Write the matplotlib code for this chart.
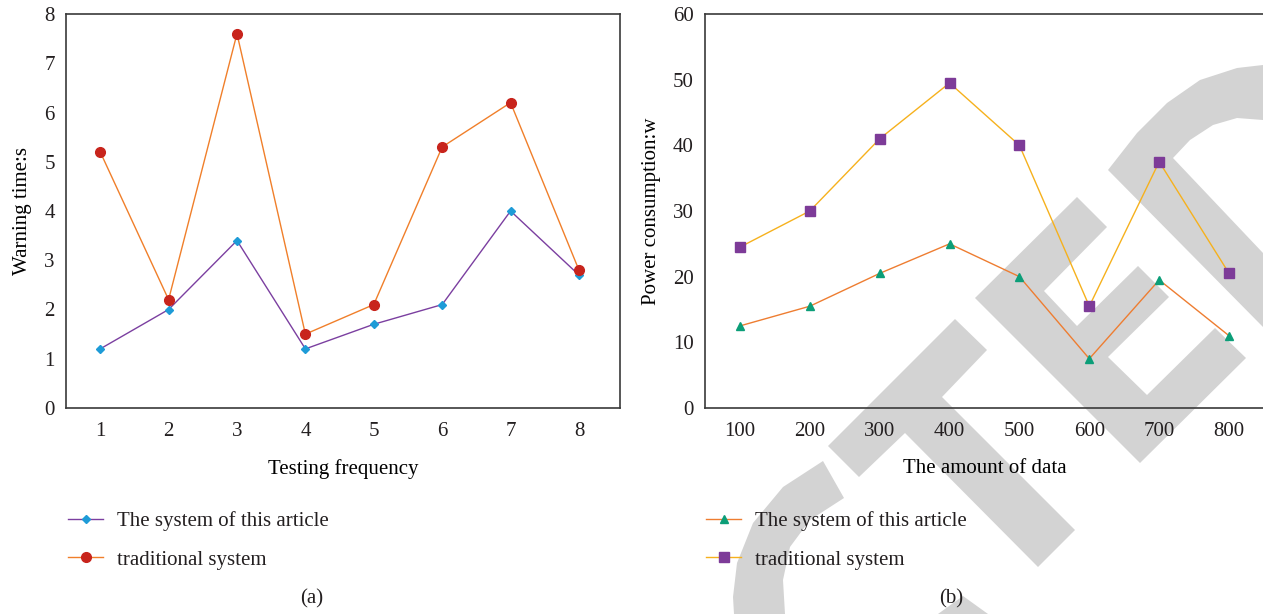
import matplotlib
matplotlib.use('Agg')
import matplotlib.pyplot as plt
from matplotlib.patches import Polygon

plt.rcParams['font.family'] = ['Liberation Serif', 'DejaVu Serif']
plt.rcParams['text.color'] = '#231f20'

# (a) warning time per test run
test_no = [1, 2, 3, 4, 5, 6, 7, 8]
warn_ours = [1.2, 2.0, 3.4, 1.2, 1.7, 2.1, 4.0, 2.7]
warn_trad = [5.2, 2.2, 7.6, 1.5, 2.1, 5.3, 6.2, 2.8]

# (b) power consumption vs amount of data
data_amount = [100, 200, 300, 400, 500, 600, 700, 800]
power_ours = [12.5, 15.5, 20.5, 25.0, 20.0, 7.5, 19.5, 11.0]
power_trad = [24.5, 30.0, 41.0, 49.5, 40.0, 15.5, 37.5, 20.5]

labels = ['The system of this article', 'traditional system']

W, H = 1263, 614
FS = 15
INK = '#231f20'

# grey retraction watermark behind the charts (pixel coords, y down)
watermark = [
    # T
    [(955, 319), (987, 350), (942, 397), (1075, 530), (1038, 567),
     (905, 433), (859, 477), (828, 446)],
    # E
    [(1077, 197), (1107, 227), (1044, 291), (1077, 326), (1138, 266),
     (1169, 297), (1108, 357), (1147, 395), (1215, 328), (1246, 358),
     (1140, 463), (975, 298)],
    # bowl + leg at top right
    [(1108, 170), (1137, 133), (1167, 103), (1200, 80), (1237, 68),
     (1263, 65), (1263, 120), (1237, 118), (1213, 125), (1190, 140),
     (1173, 158), (1263, 253), (1263, 327)],
    # arc at the bottom
    [(823, 461), (783, 487), (753, 523), (737, 563), (733, 597),
     (734, 614), (785, 614), (783, 580), (790, 547), (810, 520),
     (844, 498)],
    [(938, 614), (963, 596), (988, 614)],
]

fig = plt.figure(figsize=(W / 100, H / 100), dpi=100)
bg = fig.add_axes([0, 0, 1, 1], zorder=0)
bg.set_xlim(0, W)
bg.set_ylim(H, 0)
bg.axis('off')
for pts in watermark:
    bg.add_patch(Polygon(pts, closed=True, fc='#d3d3d3', ec='none'))


def px_axes(x0, y0, x1, y1):
    a = fig.add_axes([x0 / W, 1 - y1 / H, (x1 - x0) / W, (y1 - y0) / H], zorder=1)
    a.set_facecolor('none')
    for s in a.spines.values():
        s.set_color('#3a3a3a')
        s.set_linewidth(1.2)
    a.tick_params(length=0, labelsize=FS, colors=INK)
    a.tick_params(axis='x', pad=10)
    a.tick_params(axis='y', pad=8)
    return a


ax1 = px_axes(66, 14, 620, 408)
ax1.plot(test_no, warn_ours, color='#7b3fa0', lw=1.0, marker='D', ms=4.5,
         mfc='#1e9bd7', mec='#1e9bd7', label=labels[0])
ax1.plot(test_no, warn_trad, color='#f07f2a', lw=1.0, marker='o', ms=7,
         mfc='#c8241c', mec='#c8241c', label=labels[1])
ax1.set_xlim(0.5, 8.6)
ax1.set_ylim(0, 8)
ax1.set_xticks(test_no)
ax1.set_yticks(range(0, 9))
ax1.set_ylabel('Warning time:s', fontsize=FS, labelpad=9)
ax1.set_xlabel('Testing frequency', fontsize=FS, labelpad=13)

ax2 = px_axes(705, 14, 1264, 408)
ax2.spines['right'].set_visible(False)
ax2.plot(data_amount, power_ours, color='#ee7d31', lw=1.0, marker='^', ms=6,
         mfc='#0b9e78', mec='#0b9e78', label=labels[0])
ax2.plot(data_amount, power_trad, color='#f6b11d', lw=1.0, marker='s', ms=7,
         mfc='#7d3b98', mec='#7d3b98', label=labels[1])
ax2.set_xlim(50, 850)
ax2.set_ylim(0, 60)
ax2.set_xticks(data_amount)
ax2.set_yticks(range(0, 61, 10))
ax2.set_ylabel('Power consumption:w', fontsize=FS, labelpad=9)
ax2.set_xlabel('The amount of data', fontsize=FS, labelpad=13)

for a, lx in ((ax1, 68), (ax2, 706)):
    a.legend(loc='upper left', bbox_to_anchor=(lx / W, 1 - 511 / H),
             bbox_transform=fig.transFigure, frameon=False, fontsize=FS,
             handlelength=1.7, handletextpad=0.67, labelspacing=0.92,
             borderpad=0, borderaxespad=0, numpoints=1)

fig.text(312 / W, 1 - 599 / H, '(a)', ha='center', va='center', fontsize=FS)
fig.text(951 / W, 1 - 599 / H, '(b)', ha='center', va='center', fontsize=FS)

fig.savefig('out.png', dpi=100)
